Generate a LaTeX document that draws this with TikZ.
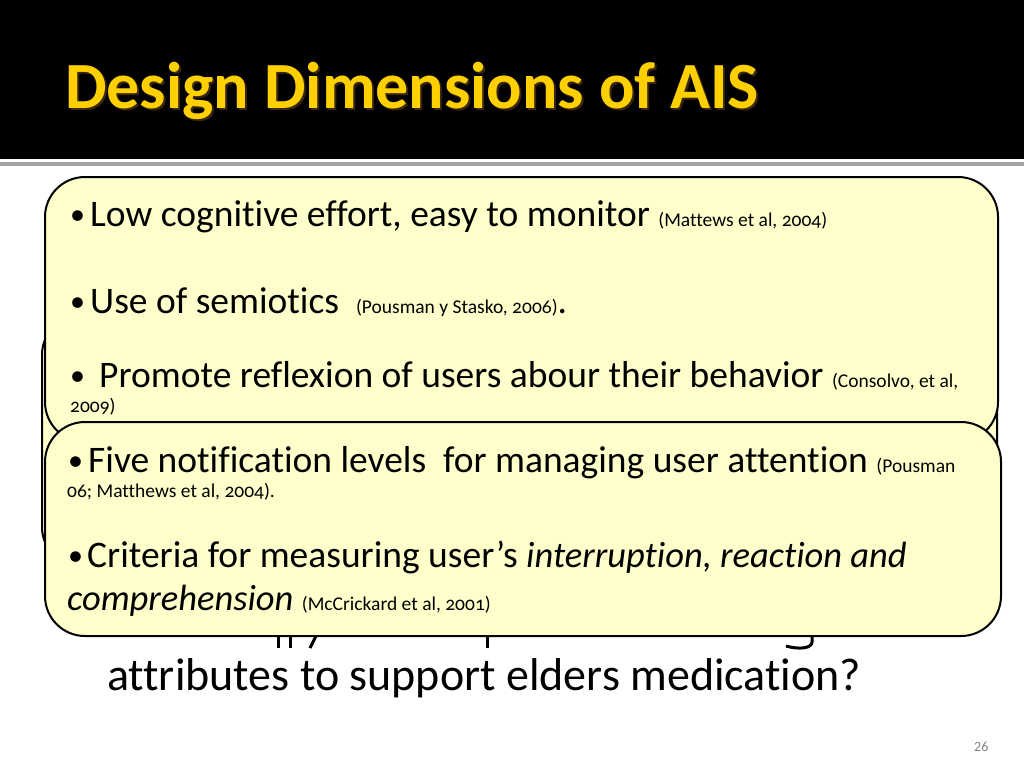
\documentclass[tikz,border=0pt]{standalone}
\usepackage{fontspec}
\setmainfont{Carlito}[Ligatures=NoCommon]
\definecolor{boxfill}{RGB}{255,255,204}
\definecolor{titleyel}{RGB}{255,208,0}
\definecolor{rulegray}{RGB}{166,166,166}
\newcommand{\refsz}[1]{{\fontsize{19.5}{22}\selectfont\addfontfeatures{Numbers=OldStyle}#1}}
\newcommand{\itsz}[1]{{\fontsize{36.5}{42}\selectfont\itshape #1}}
\begin{document}
\begin{tikzpicture}[x=1pt,y=-1pt,
  box/.style={draw=black, line width=2pt, fill=boxfill, rounded corners=40pt},
  txt/.style={anchor=base west, inner sep=0pt, font=\fontsize{37.5}{42}\selectfont},
  bul/.style={anchor=base west, inner sep=0pt, font=\fontsize{30}{34}\selectfont},
  small/.style={anchor=base west, inner sep=0pt, font=\fontsize{19.5}{22}\selectfont\addfontfeatures{Numbers=OldStyle}},
  desc/.style={line width=3pt, black}]
\useasboundingbox (0,0) rectangle (1024,768);
% header
\fill[black] (0,0) rectangle (1024,159);
\fill[rulegray] (0,162) rectangle (1024,165.5);
\node[anchor=base west, inner sep=0pt, font=\fontsize{66}{70}\selectfont\bfseries, text=black!70!brown] (tshadow) at (67,110) {Design Dimensions of AIS};
\node[anchor=base west, inner sep=0pt, font=\fontsize{66}{70}\selectfont\bfseries, text=titleyel] (title) at (65,108) {Design Dimensions of AIS};
% background text
\node[anchor=base west, inner sep=0pt, font=\fontsize{46}{50}\selectfont] (back) at (107,690) {attributes to support elders medication?};
\draw[desc] (278,630) -- (278,648);
\draw[desc] (290,630) -- (290,648);
\draw[desc] (316,636) -- (310,648);
\draw[desc] (487,630) -- (487,648);
\draw[desc] (812,630) -- (812,642) .. controls (812,648) and (800,650) .. (786,646);
% back box
\draw[box] (42,315) rectangle (997,567);
% box 1
\draw[box] (45,177) rectangle (998,442);
\node[bul] (b1) at (70,224) {•};
\node[txt] (t1) at (90,226) {Low cognitive effort, easy to monitor \refsz{(Mattews et al, 2004)}};
\node[bul] (b2) at (70,311) {•};
\node[txt] (t2) at (90,313) {Use of semiotics\ \ \refsz{(Pousman y Stasko, 2006)}.};
\node[bul] (b3) at (70,385) {•};
\node[txt] (t3) at (99,387) {Promote reflexion of users abour their behavior \refsz{(Consolvo, et al,}};
\node[small] (t3b) at (70,412) {2009)};
% box 2
\draw[box] (45,422) rectangle (1001,636);
\node[bul] (b4) at (68,470) {•};
\node[txt] (t4) at (88,472) {Five notification levels\ \ for managing user attention \refsz{(Pousman}};
\node[small] (t4b) at (67,497) {06; Matthews et al, 2004).};
\node[bul] (b5) at (68,565) {•};
\node[txt] (t5) at (87,567) {Criteria for measuring user’s \itsz{interruption, reaction and}};
\node[txt] (t5b) at (67,610) {\itsz{comprehension} \refsz{(McCrickard et al, 2001)}};
% page number
\node[anchor=base west, inner sep=0pt, font=\fontsize{14}{16}\selectfont, text=gray] (pg) at (974,751) {26};
\end{tikzpicture}
\end{document}
